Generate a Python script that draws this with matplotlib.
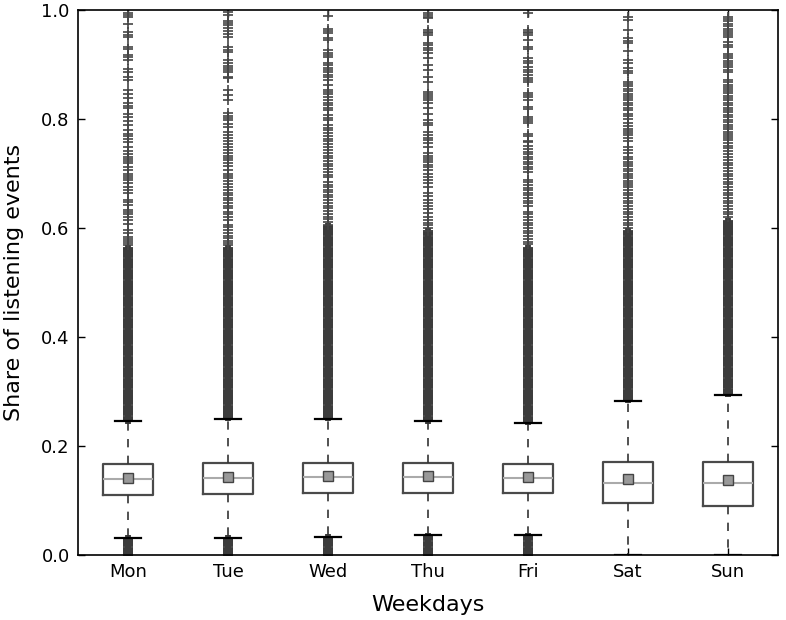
import numpy as np
import matplotlib
matplotlib.use('Agg')
import matplotlib.pyplot as plt

plt.rcParams['font.family'] = ['DejaVu Sans']
plt.rcParams['lines.scale_dashes'] = False

days = ['Mon', 'Tue', 'Wed', 'Thu', 'Fri', 'Sat', 'Sun']
q1 = [0.110, 0.112, 0.114, 0.114, 0.114, 0.095, 0.090]
q3 = [0.167, 0.169, 0.169, 0.169, 0.167, 0.170, 0.171]
medians = [0.139, 0.141, 0.143, 0.143, 0.141, 0.133, 0.133]
means = [0.141, 0.143, 0.145, 0.145, 0.143, 0.139, 0.138]
whisker_lo = [0.031, 0.031, 0.033, 0.036, 0.037, 0.0, 0.0]
whisker_hi = [0.246, 0.250, 0.250, 0.246, 0.242, 0.283, 0.294]

# sparse outliers (individually visible)
fliers_mon = [0.995, 0.991, 0.987, 0.974, 0.960, 0.954, 0.951, 0.933, 0.928, 0.917, 0.913, 0.908,
              0.891, 0.887, 0.877, 0.872, 0.853, 0.845, 0.838, 0.829, 0.823, 0.820, 0.810, 0.804,
              0.797, 0.789, 0.780, 0.772, 0.768, 0.763, 0.757, 0.749, 0.742, 0.736, 0.731, 0.727,
              0.723, 0.719, 0.712, 0.706, 0.700, 0.696, 0.692, 0.688, 0.682, 0.676, 0.670, 0.664,
              0.651, 0.647, 0.642, 0.633, 0.629, 0.625, 0.621, 0.615, 0.608, 0.596, 0.590, 0.584,
              0.580, 0.576, 0.572, 0.568]
fliers_tue = [0.996, 0.991, 0.980, 0.976, 0.972, 0.967, 0.962, 0.956, 0.950, 0.932, 0.927, 0.923,
              0.908, 0.903, 0.898, 0.893, 0.889, 0.886, 0.877, 0.875, 0.853, 0.844, 0.835, 0.811,
              0.806, 0.802, 0.798, 0.790, 0.785, 0.776, 0.771, 0.766, 0.760, 0.755, 0.749, 0.743,
              0.738, 0.733, 0.729, 0.725, 0.719, 0.713, 0.706, 0.700, 0.696, 0.691, 0.686, 0.680,
              0.675, 0.670, 0.665, 0.660, 0.655, 0.651, 0.646, 0.641, 0.637, 0.630, 0.625, 0.620,
              0.615, 0.606, 0.601, 0.596, 0.591, 0.586, 0.581, 0.577, 0.573, 0.569]
fliers_wed = [0.989, 0.965, 0.961, 0.958, 0.948, 0.945, 0.927, 0.922, 0.918, 0.914, 0.903, 0.899,
              0.894, 0.890, 0.886, 0.881, 0.877, 0.872, 0.862, 0.853, 0.849, 0.845, 0.840, 0.835,
              0.830, 0.826, 0.821, 0.817, 0.807, 0.802, 0.798, 0.789, 0.784, 0.779, 0.774, 0.769,
              0.764, 0.759, 0.754, 0.749, 0.743, 0.738, 0.733, 0.728, 0.723, 0.718, 0.713, 0.708,
              0.703, 0.698, 0.694, 0.684, 0.679, 0.675, 0.670, 0.666, 0.660, 0.656, 0.651, 0.646,
              0.641, 0.636, 0.631, 0.626, 0.621, 0.616, 0.611, 0.606]
fliers_thu = [0.994, 0.991, 0.988, 0.985, 0.963, 0.960, 0.957, 0.954, 0.939, 0.935, 0.931, 0.927,
              0.921, 0.912, 0.899, 0.890, 0.877, 0.868, 0.850, 0.846, 0.843, 0.839, 0.835, 0.829,
              0.820, 0.810, 0.798, 0.793, 0.789, 0.776, 0.771, 0.766, 0.761, 0.756, 0.749, 0.738,
              0.733, 0.729, 0.725, 0.721, 0.716, 0.712, 0.706, 0.700, 0.694, 0.688, 0.682, 0.675,
              0.664, 0.658, 0.651, 0.646, 0.640, 0.634, 0.627, 0.620, 0.615, 0.610, 0.605, 0.600,
              0.595]
fliers_fri = [0.994, 0.963, 0.960, 0.957, 0.954, 0.945, 0.932, 0.928, 0.912, 0.907, 0.903, 0.895,
              0.890, 0.886, 0.880, 0.876, 0.872, 0.868, 0.848, 0.844, 0.840, 0.835, 0.822, 0.818,
              0.804, 0.800, 0.796, 0.792, 0.772, 0.768, 0.760, 0.757, 0.750, 0.745, 0.740, 0.736,
              0.731, 0.727, 0.722, 0.717, 0.712, 0.708, 0.703, 0.688, 0.684, 0.679, 0.674, 0.669,
              0.664, 0.660, 0.655, 0.650, 0.645, 0.640, 0.630, 0.625, 0.620, 0.615, 0.610, 0.605,
              0.600, 0.595, 0.590, 0.585, 0.580, 0.575, 0.570]
fliers_sat = [0.987, 0.982, 0.963, 0.948, 0.944, 0.939, 0.925, 0.908, 0.903, 0.893, 0.888, 0.884,
              0.868, 0.864, 0.860, 0.855, 0.851, 0.846, 0.842, 0.838, 0.834, 0.829, 0.825, 0.821,
              0.817, 0.810, 0.805, 0.800, 0.792, 0.787, 0.782, 0.778, 0.774, 0.770, 0.765, 0.760,
              0.749, 0.744, 0.738, 0.730, 0.726, 0.722, 0.717, 0.713, 0.709, 0.704, 0.700, 0.696,
              0.691, 0.687, 0.683, 0.679, 0.675, 0.670, 0.665, 0.660, 0.655, 0.650, 0.646, 0.640,
              0.635, 0.630, 0.625, 0.620, 0.615, 0.610, 0.605, 0.600]
fliers_sun = [0.987, 0.983, 0.979, 0.975, 0.970, 0.966, 0.962, 0.958, 0.954, 0.950, 0.941, 0.936,
              0.932, 0.920, 0.915, 0.912, 0.907, 0.903, 0.899, 0.895, 0.890, 0.886, 0.872, 0.868,
              0.863, 0.859, 0.855, 0.851, 0.847, 0.843, 0.839, 0.835, 0.829, 0.825, 0.821, 0.816,
              0.812, 0.808, 0.804, 0.798, 0.794, 0.789, 0.785, 0.781, 0.777, 0.773, 0.769, 0.765,
              0.761, 0.756, 0.751, 0.746, 0.741, 0.735, 0.730, 0.725, 0.720, 0.715, 0.710, 0.705,
              0.700, 0.695, 0.690, 0.685, 0.680, 0.675, 0.670, 0.665, 0.660, 0.655, 0.650, 0.645,
              0.640, 0.635, 0.630, 0.625, 0.620]

# densely packed outliers (solid-looking bands)
dense_mon = [0.000, 0.010, 0.020, 0.027,
             0.25, 0.26, 0.27, 0.28, 0.29, 0.30, 0.31, 0.32, 0.33, 0.34, 0.35, 0.36, 0.37, 0.38,
             0.39, 0.40, 0.41, 0.42, 0.43, 0.44, 0.45, 0.46, 0.47, 0.48, 0.49, 0.50, 0.51, 0.52,
             0.53, 0.54, 0.55, 0.56]
dense_tue = [0.000, 0.010, 0.020, 0.027,
             0.255, 0.26, 0.27, 0.28, 0.29, 0.30, 0.31, 0.32, 0.33, 0.34, 0.35, 0.36, 0.37, 0.38,
             0.39, 0.40, 0.41, 0.42, 0.43, 0.44, 0.45, 0.46, 0.47, 0.48, 0.49, 0.50, 0.51, 0.52,
             0.53, 0.54, 0.55, 0.56]
dense_wed = [0.000, 0.010, 0.020, 0.029,
             0.255, 0.26, 0.27, 0.28, 0.29, 0.30, 0.31, 0.32, 0.33, 0.34, 0.35, 0.36, 0.37, 0.38,
             0.39, 0.40, 0.41, 0.42, 0.43, 0.44, 0.45, 0.46, 0.47, 0.48, 0.49, 0.50, 0.51, 0.52,
             0.53, 0.54, 0.55, 0.56, 0.57, 0.58, 0.59, 0.60]
dense_thu = [0.000, 0.010, 0.020, 0.031,
             0.25, 0.26, 0.27, 0.28, 0.29, 0.30, 0.31, 0.32, 0.33, 0.34, 0.35, 0.36, 0.37, 0.38,
             0.39, 0.40, 0.41, 0.42, 0.43, 0.44, 0.45, 0.46, 0.47, 0.48, 0.49, 0.50, 0.51, 0.52,
             0.53, 0.54, 0.55, 0.56, 0.57, 0.58, 0.59]
dense_fri = [0.000, 0.010, 0.020, 0.032,
             0.247, 0.25, 0.26, 0.27, 0.28, 0.29, 0.30, 0.31, 0.32, 0.33, 0.34, 0.35, 0.36, 0.37,
             0.38, 0.39, 0.40, 0.41, 0.42, 0.43, 0.44, 0.45, 0.46, 0.47, 0.48, 0.49, 0.50, 0.51,
             0.52, 0.53, 0.54, 0.55, 0.56]
dense_sat = [0.288, 0.29, 0.30, 0.31, 0.32, 0.33, 0.34, 0.35, 0.36, 0.37, 0.38, 0.39, 0.40, 0.41,
             0.42, 0.43, 0.44, 0.45, 0.46, 0.47, 0.48, 0.49, 0.50, 0.51, 0.52, 0.53, 0.54, 0.55,
             0.56, 0.57, 0.58, 0.59]
dense_sun = [0.299, 0.30, 0.31, 0.32, 0.33, 0.34, 0.35, 0.36, 0.37, 0.38, 0.39, 0.40, 0.41, 0.42,
             0.43, 0.44, 0.45, 0.46, 0.47, 0.48, 0.49, 0.50, 0.51, 0.52, 0.53, 0.54, 0.55, 0.56,
             0.57, 0.58, 0.59, 0.60, 0.61]

sparse_all = [fliers_mon, fliers_tue, fliers_wed, fliers_thu, fliers_fri, fliers_sat, fliers_sun]
dense_all = [dense_mon, dense_tue, dense_wed, dense_thu, dense_fri, dense_sat, dense_sun]

fig = plt.figure(figsize=(7.86, 6.2), dpi=100)
ax = fig.add_axes([78 / 786, 1 - 555 / 620, 700 / 786, 545 / 620])

positions = np.arange(1, len(days) + 1)
stats = []
for i, d in enumerate(days):
    stats.append(dict(label=d, med=medians[i], q1=q1[i], q3=q3[i],
                      whislo=whisker_lo[i], whishi=whisker_hi[i],
                      mean=means[i], fliers=np.array(sparse_all[i])))

flier_color = '#3c3c3c'

# dense outlier bands
for i, vals in enumerate(dense_all):
    ax.plot(np.full(len(vals), positions[i]), vals, ls='none', marker='+',
            markersize=7, markeredgewidth=4.2, color=flier_color, zorder=2)

ax.bxp(stats, positions=positions, widths=0.5, capwidths=0.26,
       showmeans=True, showfliers=True, patch_artist=False,
       boxprops=dict(color='#4a4a4a', linewidth=1.6),
       medianprops=dict(color='#aaaaaa', linewidth=1.5),
       meanprops=dict(marker='s', markerfacecolor='#999999', markeredgecolor='#444444',
                      markersize=7.5, markeredgewidth=1.0),
       whiskerprops=dict(color='#333333', linestyle=(0, (6, 6)), linewidth=1.2),
       capprops=dict(color='black', linewidth=1.6),
       flierprops=dict(marker='+', markeredgecolor='#454545', markersize=7,
                       markeredgewidth=1.2))

ax.set_xlim(0.5, 7.5)
ax.set_ylim(0.0, 1.0)
ax.set_yticks([0.0, 0.2, 0.4, 0.6, 0.8, 1.0])
ax.set_xticks(positions)
ax.set_xticklabels(days)
ax.tick_params(direction='in', top=True, right=True, length=5, width=1,
               labelsize=13, pad=6)
for s in ax.spines.values():
    s.set_linewidth(1.2)

ax.set_xlabel('Weekdays', fontsize=16, labelpad=10)
ax.set_ylabel('Share of listening events', fontsize=16, labelpad=12)

fig.savefig('out.png', dpi=100)
